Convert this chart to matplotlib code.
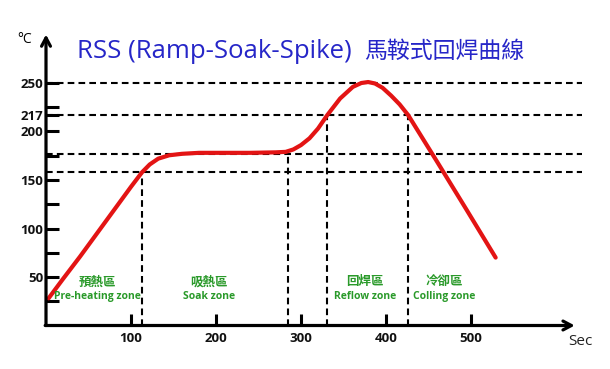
import matplotlib
matplotlib.use('Agg')
import matplotlib.pyplot as plt

plt.rcParams['font.family'] = ['Open Sans', 'Noto Sans CJK TC', 'DejaVu Sans']

# reflow profile (time in s, temperature in deg C)
time_s = [3, 20, 40, 60, 80, 100, 113, 122, 132, 145, 160, 180, 210, 240, 270,
          282, 291, 300, 310, 320, 331, 346, 361, 371, 379, 387, 396, 406, 416, 426,
          460, 495, 529]
temp_c = [28, 48, 71, 95, 119, 143, 158, 166, 172, 175.5, 177, 178, 178, 178, 178.5,
          179, 181.5, 186, 193, 203, 217, 234, 246, 250, 251, 249.5, 245, 237, 228, 217,
          169, 119, 70]

# reference levels and zone borders
ref_temps = [250, 217, 177, 158]
border_times = [113, 285, 331, 426]
border_temps = [158, 177, 217, 217]

x_ticks = [100, 200, 300, 400, 500]
y_ticks = [50, 100, 150, 200, 217, 250]
y_minor = [25, 75, 125, 175, 225]

zone_cn = ['預熱區', '吸熱區', '回焊區', '冷卻區']
zone_en = ['Pre-heating zone', 'Soak zone', 'Reflow zone', 'Colling zone']
zone_x = [60, 192, 375, 469]

title_en = 'RSS (Ramp-Soak-Spike)'
title_cn = '馬鞍式回焊曲線'


def main():
    fig = plt.figure(figsize=(6.1, 3.69), dpi=100)
    ax = fig.add_axes([46 / 610, 43.5 / 369, 527 / 610, 291 / 369])
    ax.set_xlim(0, 620)
    ax.set_ylim(0, 300)
    for s in ax.spines.values():
        s.set_visible(False)

    dash = dict(color='black', lw=1.5, dashes=(3.2, 2.0), clip_on=False)
    for t in ref_temps:
        ax.plot([0, 630], [t, t], **dash)
    for bx, by in zip(border_times, border_temps):
        ax.plot([bx, bx], [0, by], **dash)

    ax.plot(time_s, temp_c, color='#e31414', lw=3, solid_capstyle='round',
            solid_joinstyle='round', zorder=3)

    # axes as arrows
    arrow = dict(arrowstyle='->, head_length=0.6, head_width=0.32', lw=2.3,
                 color='black', shrinkA=0, shrinkB=0)
    ax.annotate('', xy=(0, 300), xytext=(0, 0), arrowprops=arrow, annotation_clip=False)
    ax.annotate('', xy=(622, 0), xytext=(-1, 0), arrowprops=arrow, annotation_clip=False)

    ax.set_xticks(x_ticks)
    ax.set_yticks(y_ticks)
    ax.set_yticks(y_minor, minor=True)
    ax.tick_params(axis='both', which='both', direction='in', length=9, width=2.2,
                   labelsize=9.5, colors='black')
    ax.tick_params(axis='x', pad=5)
    ax.tick_params(axis='y', pad=2)
    for tick in ax.yaxis.get_major_ticks():
        if tick.get_loc() == 217:
            tick.tick1line.set_visible(False)
    plt.setp(ax.get_xticklabels() + ax.get_yticklabels(), fontweight='bold', color='#111111')

    ax.text(-25, 295, '°C', fontsize=10, ha='center', va='center', clip_on=False)
    ax.text(629, -17, 'Sec', fontsize=11, ha='center', va='center', color='#222222', clip_on=False)
    ax.text(36, 282, title_en, fontsize=18.5, color='#2626c8', ha='left', va='center')
    ax.text(374, 282, title_cn, fontsize=16.5, fontweight='medium', color='#2626c8',
            ha='left', va='center')

    for cn, en, zx in zip(zone_cn, zone_en, zone_x):
        ax.text(zx, 45, cn, fontsize=9, fontweight='bold', color='#2a9a2a',
                ha='center', va='center')
        ax.text(zx, 30, en, fontsize=7.5, fontweight='bold', color='#2a9a2a',
                ha='center', va='center')

    fig.savefig('out.png', dpi=100)
    plt.close(fig)


if __name__ == "__main__":
    main()
